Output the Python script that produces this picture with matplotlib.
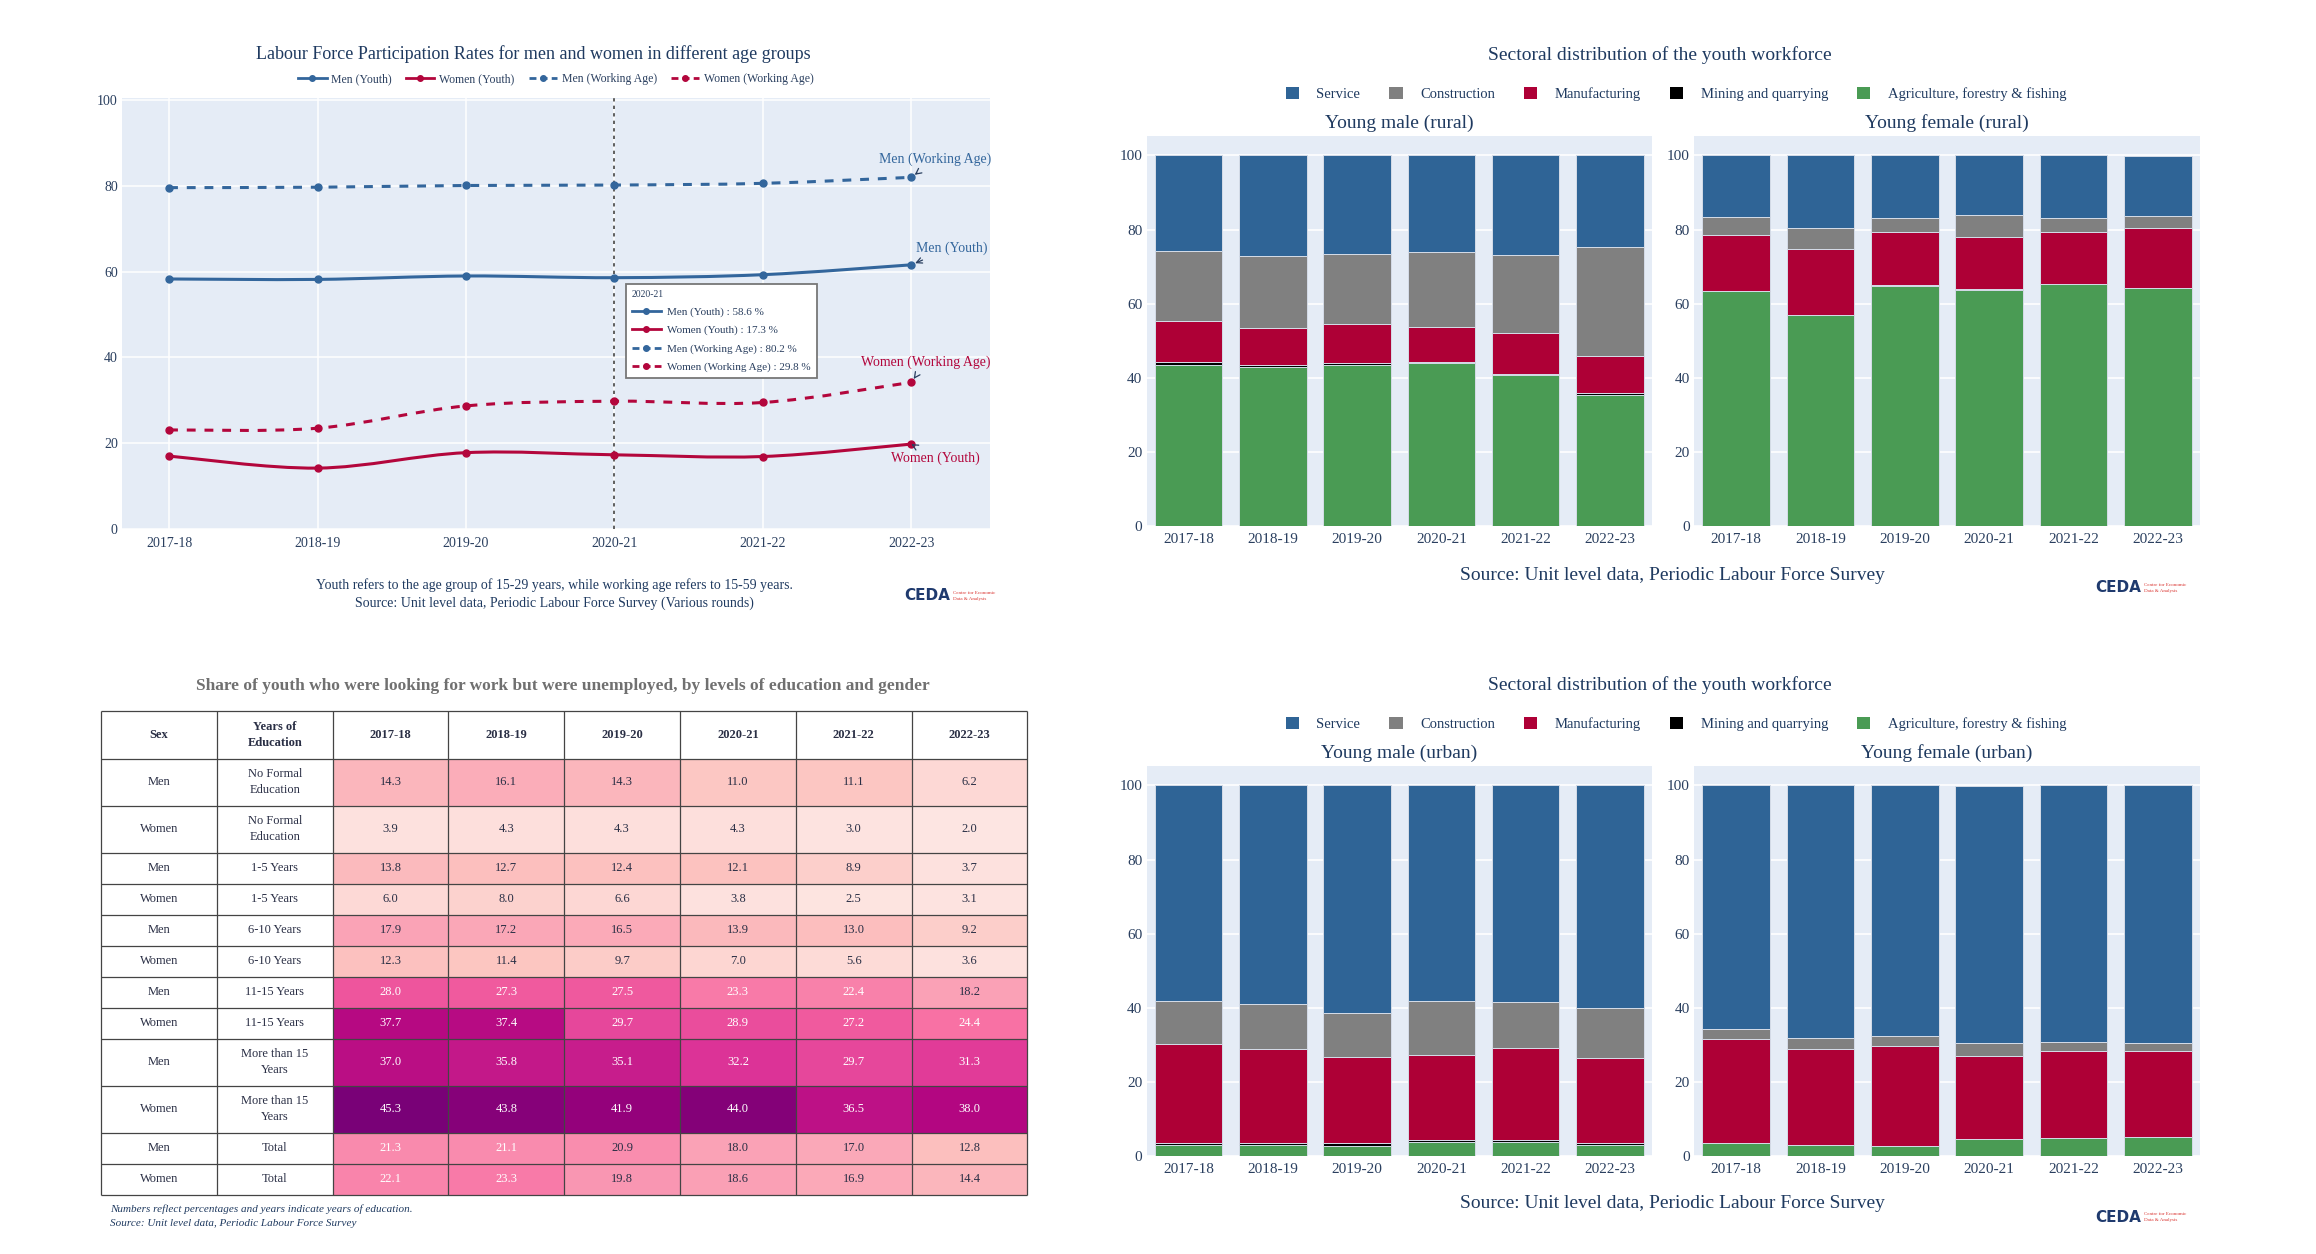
import numpy as np
import matplotlib
matplotlib.use("Agg")
import matplotlib.pyplot as plt
from matplotlib.path import Path
from matplotlib.patches import PathPatch, Patch
from matplotlib.lines import Line2D
from matplotlib.colors import PowerNorm, ListedColormap

plt.rcParams["font.family"] = ["Liberation Serif", "DejaVu Serif"]

# ---------------- data ----------------
years = ["2017-18", "2018-19", "2019-20", "2020-21", "2021-22", "2022-23"]

# labour force participation (%)
men_youth = [58.3, 58.2, 59.0, 58.6, 59.3, 61.6]
women_youth = [17.0, 14.2, 17.8, 17.3, 16.9, 19.8]
men_working = [79.6, 79.7, 80.1, 80.2, 80.6, 82.0]
women_working = [23.1, 23.5, 28.7, 29.8, 29.5, 34.2]

# unemployment table
table_sex = ["Men", "Women"] * 6
table_edu = ["No Formal\nEducation", "No Formal\nEducation", "1-5 Years", "1-5 Years",
             "6-10 Years", "6-10 Years", "11-15 Years", "11-15 Years",
             "More than 15\nYears", "More than 15\nYears", "Total", "Total"]
table_values = [
    [14.3, 16.1, 14.3, 11.0, 11.1, 6.2],
    [3.9, 4.3, 4.3, 4.3, 3.0, 2.0],
    [13.8, 12.7, 12.4, 12.1, 8.9, 3.7],
    [6.0, 8.0, 6.6, 3.8, 2.5, 3.1],
    [17.9, 17.2, 16.5, 13.9, 13.0, 9.2],
    [12.3, 11.4, 9.7, 7.0, 5.6, 3.6],
    [28.0, 27.3, 27.5, 23.3, 22.4, 18.2],
    [37.7, 37.4, 29.7, 28.9, 27.2, 24.4],
    [37.0, 35.8, 35.1, 32.2, 29.7, 31.3],
    [45.3, 43.8, 41.9, 44.0, 36.5, 38.0],
    [21.3, 21.1, 20.9, 18.0, 17.0, 12.8],
    [22.1, 23.3, 19.8, 18.6, 16.9, 14.4],
]

# sectoral shares (%), stacked bottom to top
sectors = ["Agriculture, forestry & fishing", "Mining and quarrying",
           "Manufacturing", "Construction", "Service"]
male_rural = {
    "Agriculture, forestry & fishing": [43.5, 42.9, 43.5, 43.9, 40.6, 35.3],
    "Mining and quarrying": [0.7, 0.4, 0.5, 0.2, 0.5, 0.6],
    "Manufacturing": [11.1, 10.0, 10.4, 9.5, 10.9, 10.0],
    "Construction": [18.8, 19.6, 19.0, 20.3, 21.2, 29.4],
    "Service": [25.9, 27.1, 26.6, 26.1, 26.8, 24.7],
}
female_rural = {
    "Agriculture, forestry & fishing": [63.3, 56.9, 64.8, 63.7, 65.2, 64.2],
    "Mining and quarrying": [0.1, 0.1, 0.1, 0.1, 0.1, 0.1],
    "Manufacturing": [15.2, 17.7, 14.3, 14.1, 14.1, 16.2],
    "Construction": [4.7, 5.6, 3.8, 6.1, 3.6, 3.2],
    "Service": [16.7, 19.7, 17.0, 16.0, 17.0, 16.1],
}
male_urban = {
    "Agriculture, forestry & fishing": [2.9, 2.8, 2.7, 3.8, 3.8, 2.8],
    "Mining and quarrying": [0.5, 0.5, 0.6, 0.5, 0.5, 0.5],
    "Manufacturing": [26.7, 25.6, 23.4, 22.9, 24.9, 23.2],
    "Construction": [11.8, 12.0, 11.8, 14.5, 12.2, 13.3],
    "Service": [58.1, 59.1, 61.5, 58.3, 58.6, 60.2],
}
female_urban = {
    "Agriculture, forestry & fishing": [3.3, 2.8, 2.5, 4.5, 4.8, 5.1],
    "Mining and quarrying": [0.1, 0.1, 0.1, 0.0, 0.0, 0.0],
    "Manufacturing": [28.2, 26.0, 26.9, 22.4, 23.4, 23.1],
    "Construction": [2.6, 3.0, 2.8, 3.6, 2.6, 2.3],
    "Service": [65.8, 68.1, 67.7, 69.3, 69.2, 69.5],
}

# ---------------- style ----------------
NAVY = "#1f3a60"
TICK = "#2a3f5f"
BG = "#e5ecf6"
BLUE = "#33669c"
RED = "#b3063c"
sector_colors = {
    "Service": "#2f6496",
    "Construction": "#808080",
    "Manufacturing": "#ae0036",
    "Mining and quarrying": "#000000",
    "Agriculture, forestry & fishing": "#4a9b54",
}

W, H = 2316, 1254
fig = plt.figure(figsize=(W / 100, H / 100), dpi=100)


def fx(x):
    return x / W


def fy(y):
    return 1 - y / H


def px_axes(x0, y0, x1, y1):
    return fig.add_axes([x0 / W, 1 - y1 / H, (x1 - x0) / W, (y1 - y0) / H])


def smooth_path(xs, ys):
    p = np.column_stack([xs, ys]).astype(float)
    n = len(p)
    verts = [p[0]]
    codes = [Path.MOVETO]
    for i in range(n - 1):
        prev = p[max(i - 1, 0)]
        nxt = p[min(i + 2, n - 1)]
        c1 = p[i] + (p[i + 1] - prev) / 6
        c2 = p[i + 1] - (nxt - p[i]) / 6
        verts += [c1, c2, p[i + 1]]
        codes += [Path.CURVE4] * 3
    return Path(verts, codes)


def draw_logo(x0, y):
    fig.text(fx(x0), fy(y), "CEDA", family="DejaVu Sans", fontweight="bold",
             fontsize=11, color="#1f3a6e", ha="left", va="center")
    fig.text(fx(x0 + 49), fy(y), "Centre for Economic\nData & Analysis",
             fontsize=3.6, color="#d9302c", ha="left", va="center", linespacing=1.6)


# ---------------- line chart ----------------
ax = px_axes(122, 98, 990, 529)
ax.set_facecolor(BG)
ax.set_xlim(-0.317, 5.53)
ax.set_ylim(0, 100.5)
for s in ax.spines.values():
    s.set_visible(False)
ax.set_xticks(range(len(years)))
ax.set_xticklabels(years)
ax.set_yticks(range(0, 101, 20))
ax.grid(True, color="white", lw=1.1)
ax.set_axisbelow(True)
ax.tick_params(length=0, labelsize=10, labelcolor=TICK, pad=6)
ax.tick_params(axis="y", pad=3)

x = np.arange(len(years))
series = [
    ("Men (Youth)", men_youth, BLUE, "-"),
    ("Women (Youth)", women_youth, RED, "-"),
    ("Men (Working Age)", men_working, BLUE, "--"),
    ("Women (Working Age)", women_working, RED, "--"),
]
handles = []
for name, vals, color, style in series:
    ls = "solid" if style == "-" else (0, (2.9, 2.9))
    ax.add_patch(PathPatch(smooth_path(x, vals), facecolor="none", edgecolor=color,
                           lw=2.2, linestyle=ls, capstyle="butt", zorder=3))
    ax.plot(x, vals, "o", color=color, ms=5, zorder=4)
    handles.append(Line2D([], [], color=color, lw=2, marker="o", ms=4,
                          linestyle="-" if style == "-" else (0, (2.5, 1.5))))

ax.axvline(3, color="#444444", lw=1.2, ls=(0, (2, 2.5)), zorder=2)

fig.legend(handles, [s[0] for s in series], loc="center",
           bbox_to_anchor=(fx(556), fy(79)), ncol=4, frameon=False, fontsize=8.5,
           handlelength=2.4, columnspacing=1.2, handletextpad=0.4, labelcolor=TICK)

hover = ax.legend(handles, [f"{s[0]} : {s[1][3]:.1f} %" for s in series],
                  title=years[3], loc="upper left", bbox_to_anchor=(fx(620), fy(278)),
                  bbox_transform=fig.transFigure, fontsize=8, title_fontsize=7,
                  alignment="left", frameon=True, fancybox=False, framealpha=1,
                  edgecolor="#777777", borderpad=0.55, labelspacing=0.75,
                  handlelength=2.6, handletextpad=0.6, labelcolor=TICK)
hover.get_frame().set_linewidth(1.3)
hover.get_title().set_color(TICK)
hover.set_zorder(10)

offsets = {"Men (Working Age)": (24, 18), "Men (Youth)": (40, 17),
           "Women (Working Age)": (14, 20), "Women (Youth)": (24, -14)}
for name, vals, color, style in series:
    ax.annotate(name, xy=(x[-1], vals[-1]), xytext=offsets[name],
                textcoords="offset pixels", ha="center", va="center", color=color,
                fontsize=10, zorder=6,
                arrowprops=dict(arrowstyle="->", color=TICK, lw=0.9,
                                shrinkA=5, shrinkB=3))

fig.text(fx(533), fy(54), "Labour Force Participation Rates for men and women in different age groups",
         ha="center", va="center", fontsize=13, color=NAVY)
fig.text(fx(554), fy(585), "Youth refers to the age group of 15-29 years, while working age refers to 15-59 years.",
         ha="center", va="center", fontsize=10, color=NAVY)
fig.text(fx(554), fy(603), "Source: Unit level data, Periodic Labour Force Survey (Various rounds)",
         ha="center", va="center", fontsize=10, color=NAVY)
draw_logo(904, 596)

# ---------------- table ----------------
header_h = 47.7
row_h = [47, 47, 31, 31, 31, 31, 31, 31, 47, 47, 31, 31]
col_w = 115.8
tw = col_w * 8
y_edges = np.concatenate([[0, header_h], header_h + np.cumsum(row_h)])
x_edges = np.arange(9) * col_w

tax = px_axes(101, 711, 101 + tw, 711 + y_edges[-1])
tax.set_xlim(0, tw)
tax.set_ylim(y_edges[-1], 0)
tax.axis("off")

vals = np.array(table_values)
cell_cmap = ListedColormap(plt.get_cmap("RdPu")(np.linspace(0.1, 0.875, 256)))
tax.pcolormesh(x_edges[2:], y_edges[1:], vals, cmap=cell_cmap,
               norm=PowerNorm(gamma=1.08, vmin=vals.min(), vmax=vals.max()), shading="flat")
tax.hlines(y_edges, 0, tw, color="#444444", lw=0.9, clip_on=False)
tax.vlines(x_edges, 0, y_edges[-1], color="#444444", lw=0.9, clip_on=False)

cx = (x_edges[:-1] + x_edges[1:]) / 2
cy = (y_edges[:-1] + y_edges[1:]) / 2
for j, lab in enumerate(["Sex", "Years of\nEducation"] + years):
    tax.text(cx[j], cy[0], lab, ha="center", va="center", fontsize=9,
             fontweight="bold", color="#2a2f45", linespacing=1.45)
for i in range(len(table_sex)):
    tax.text(cx[0], cy[i + 1], table_sex[i], ha="center", va="center",
             fontsize=9, color="#2a2f45")
    tax.text(cx[1], cy[i + 1], table_edu[i], ha="center", va="center",
             fontsize=9, color="#2a2f45", linespacing=1.45)
    for j in range(len(years)):
        v = vals[i, j]
        tax.text(cx[j + 2], cy[i + 1], f"{v:.1f}", ha="center", va="center",
                 fontsize=9, color="white" if v > 21 else "#2a2f45")

fig.text(fx(563), fy(686),
         "Share of youth who were looking for work but were unemployed, by levels of education and gender",
         ha="center", va="center", fontsize=12.5, fontweight="bold", color="#707070")
fig.text(fx(110), fy(1209), "Numbers reflect percentages and years indicate years of education.",
         ha="left", va="center", fontsize=8, style="italic", color=NAVY)
fig.text(fx(110), fy(1224), "Source: Unit level data, Periodic Labour Force Survey",
         ha="left", va="center", fontsize=8, style="italic", color=NAVY)


# ---------------- sector bars ----------------
def bar_panel(x0, y0, x1, y1, data):
    bx = px_axes(x0, y0, x1, y1)
    bx.set_facecolor(BG)
    bx.set_xlim(-0.5, 5.5)
    bx.set_ylim(0, 105.26)
    for s in bx.spines.values():
        s.set_visible(False)
    bx.set_yticks(range(0, 101, 20))
    bx.set_xticks(range(len(years)))
    bx.set_xticklabels(years)
    bx.yaxis.grid(True, color="white", lw=1.2)
    bx.set_axisbelow(True)
    bx.tick_params(length=0, labelsize=11, labelcolor=TICK, pad=5)
    bx.tick_params(axis="y", pad=3)
    bottom = np.zeros(len(years))
    for sec in sectors:
        bx.bar(range(len(years)), data[sec], bottom=bottom, width=0.8,
               color=sector_colors[sec], edgecolor="#d5dce8", linewidth=0.7, label=sec)
        bottom += np.array(data[sec])
    return bx


def sector_block(top, panels, subtitles, source_y, logo_y):
    fig.text(fx(1660), fy(top + 0), "Sectoral distribution of the youth workforce",
             ha="center", va="center", fontsize=14, color=NAVY)
    leg_handles = [Patch(facecolor=sector_colors[s], edgecolor="none") for s in sectors[::-1]]
    fig.legend(leg_handles, sectors[::-1], loc="center",
               bbox_to_anchor=(fx(1676), fy(top + 39)), ncol=5, frameon=False,
               fontsize=10.5, handlelength=0.9, handleheight=0.9,
               columnspacing=2.0, handletextpad=1.2, labelcolor=NAVY)
    for (xa, xb), data, sub in zip([(1146.5, 1652), (1694, 2200)], panels, subtitles):
        bar_panel(xa, top + 81, xb, top + 470.7, data)
        fig.text(fx((xa + xb) / 2), fy(top + 68), sub, ha="center", va="center",
                 fontsize=14, color=NAVY)
    fig.text(fx(1672), fy(source_y), "Source: Unit level data, Periodic Labour Force Survey",
             ha="center", va="center", fontsize=14, color=NAVY)
    draw_logo(2095, logo_y)


sector_block(55, [male_rural, female_rural], ["Young male (rural)", "Young female (rural)"], 576, 588)
sector_block(685, [male_urban, female_urban], ["Young male (urban)", "Young female (urban)"], 1204, 1217)

fig.savefig("out.png", dpi=100, facecolor="white")
